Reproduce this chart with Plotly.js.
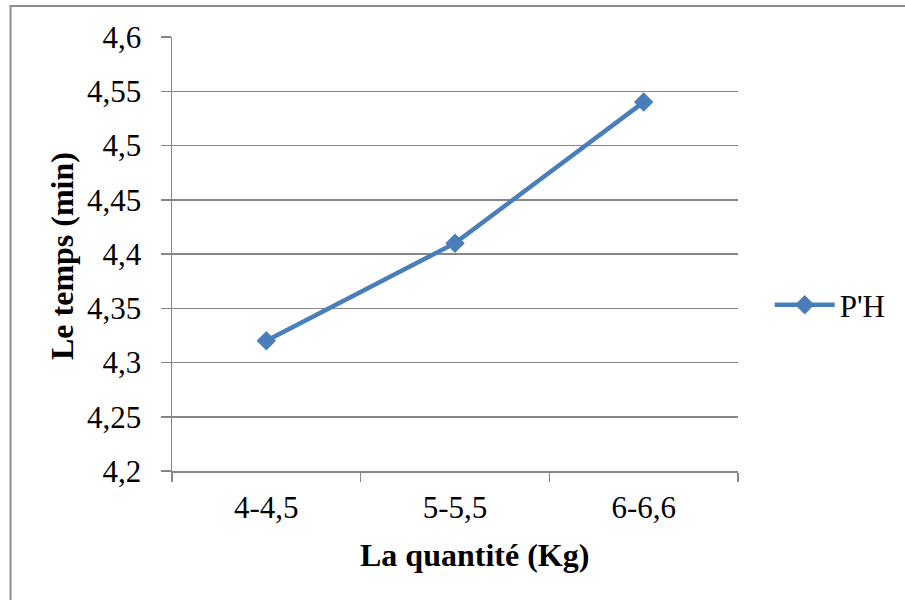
<!DOCTYPE html>
<html>
<head>
<meta charset="utf-8">
<script src="https://cdn.plot.ly/plotly-3.0.1.min.js"></script>
<style>html,body{margin:0;padding:0;background:#fff;}#chart{width:905px;height:600px;}</style>
</head>
<body>
<div id="chart"></div>
<script>
const categories = ["4-4,5", "5-5,5", "6-6,6"];
const seriesName = "P'H";
const values = [4.32, 4.41, 4.54];
const yTickVals = [4.2, 4.25, 4.3, 4.35, 4.4, 4.45, 4.5, 4.55, 4.6];
const yTickText = ["4,2", "4,25", "4,3", "4,35", "4,4", "4,45", "4,5", "4,55", "4,6"];
const xTitle = "La quantité (Kg)";
const yTitle = "Le temps (min)";

const FONT = 'Liberation Serif';
const GRAY = '#878787';
const BLUE = '#4a7ebb';

const trace = {
  type: 'scatter', mode: 'lines+markers', name: seriesName,
  x: categories, y: values,
  line: {color: BLUE, width: 4.5},
  marker: {symbol: 'diamond', size: 15, color: BLUE},
  cliponaxis: false
};

const layout = {
  width: 905, height: 600,
  margin: {l: 172, r: 167, t: 37, b: 129},
  paper_bgcolor: '#fff', plot_bgcolor: '#fff',
  font: {family: FONT, size: 31, color: '#000'},
  showlegend: true,
  legend: {x: 1.056, y: 0.3825, xanchor: 'left', yanchor: 'middle', itemwidth: 60, font: {family: FONT, size: 31, color: '#000'}, bgcolor: 'rgba(0,0,0,0)'},
  xaxis: {
    type: 'category', range: [-0.5, 2.5], tickson: 'boundaries',
    ticks: 'outside', ticklen: 9, tickwidth: 1.5, tickcolor: GRAY,
    showline: true, linecolor: GRAY, linewidth: 1.5,
    showgrid: false, zeroline: false, fixedrange: true,
    ticklabelstandoff: 8,
    tickfont: {family: FONT, size: 31, color: '#000'}
  },
  yaxis: {
    range: [4.2, 4.6], tickmode: 'array', tickvals: yTickVals, ticktext: yTickText,
    ticks: 'outside', ticklen: 10, tickwidth: 1.5, tickcolor: GRAY,
    showline: true, linecolor: GRAY, linewidth: 1.5,
    showgrid: true, gridcolor: GRAY, gridwidth: 1.5, zeroline: false, fixedrange: true,
    ticklabelstandoff: 13,
    tickfont: {family: FONT, size: 31, color: '#000'}
  },
  annotations: [
    {text: '<b>' + xTitle + '</b>', xref: 'paper', yref: 'paper', x: 0.5353, y: -0.1935, xanchor: 'center', yanchor: 'middle', showarrow: false, font: {family: FONT, size: 32, color: '#000'}},
    {text: '<b>' + yTitle + '</b>', xref: 'paper', yref: 'paper', x: -0.1943, y: 0.4954, xanchor: 'center', yanchor: 'middle', textangle: -90, showarrow: false, font: {family: FONT, size: 32, color: '#000'}}
  ],
  shapes: [
    {type: 'rect', xref: 'paper', yref: 'paper', x0: -0.2853, x1: 1.5, y0: -0.5, y1: 1.0714, line: {color: '#8c8c8c', width: 2}, fillcolor: 'rgba(0,0,0,0)', layer: 'below'}
  ]
};

Plotly.newPlot('chart', [trace], layout, {displayModeBar: false, staticPlot: true});
</script>
</body>
</html>
